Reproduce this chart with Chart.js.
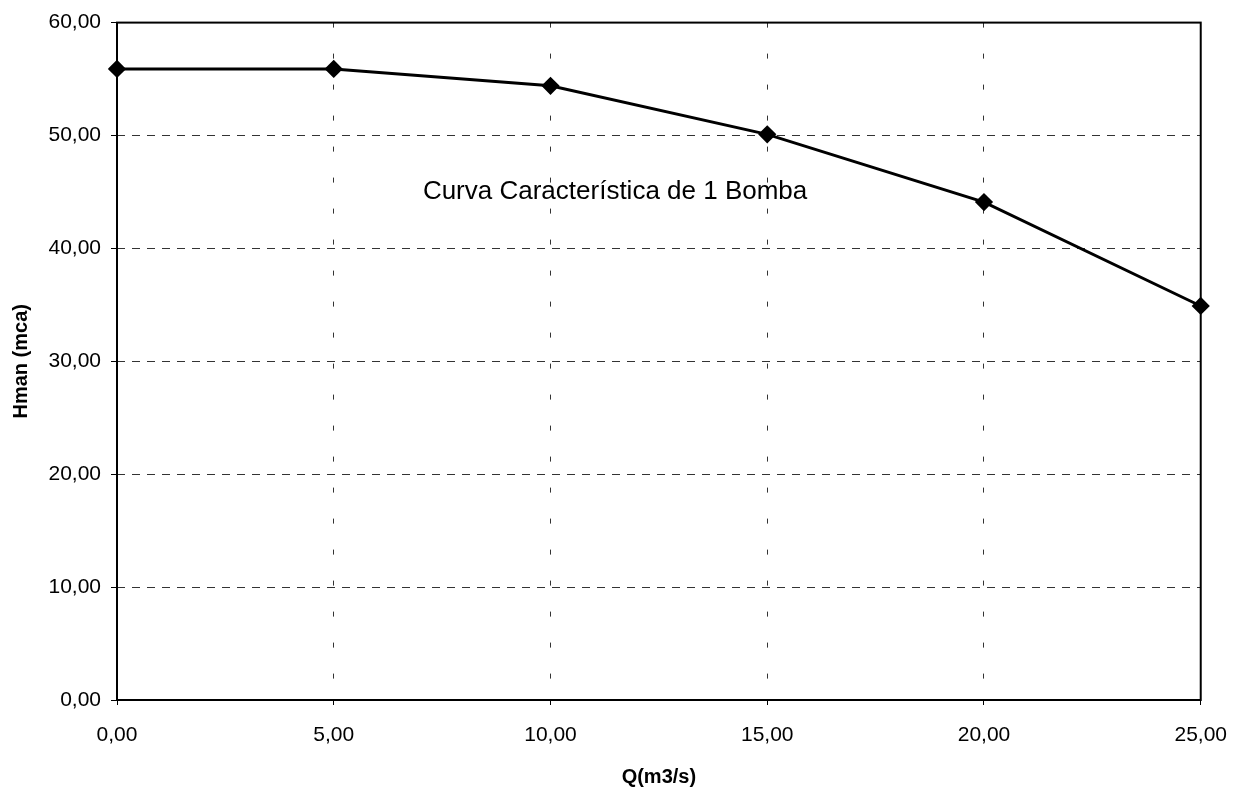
<!DOCTYPE html>
<html>
<head>
<meta charset="utf-8">
<script src="https://cdn.jsdelivr.net/npm/chart.js@4/dist/chart.umd.min.js"></script>
<style>
  body { margin: 0; background: #fff; }
</style>
</head>
<body>
<canvas id="chart" width="1245" height="789"></canvas>
<script>
const qValues = [0, 5, 10, 15, 20, 25];
const hValues = [55.9, 55.9, 54.4, 50.1, 44.1, 34.9];
const xTitle = "Q(m3/s)";
const yTitle = "Hman (mca)";
const noteText = "Curva Característica de 1 Bomba";
const notePos = { x: 11.49, y: 45.0 };

const fmt = (v) => v.toFixed(2).replace(".", ",");

// frame around the plot + floating label
const framePlugin = {
  id: "frame",
  afterDraw(chart) {
    const { ctx, chartArea: a, scales } = chart;
    ctx.save();
    ctx.strokeStyle = "#000";
    ctx.lineWidth = 2;
    ctx.strokeRect(a.left, a.top, a.right - a.left, a.bottom - a.top);
    ctx.fillStyle = "#000";
    ctx.font = "26px 'Liberation Sans', Arial, sans-serif";
    ctx.textAlign = "center";
    ctx.textBaseline = "middle";
    ctx.fillText(noteText, scales.x.getPixelForValue(notePos.x), scales.y.getPixelForValue(notePos.y));
    ctx.restore();
  },
};

const tickFont = { family: "'Liberation Sans', Arial, sans-serif", size: 21 };
const titleFont = { family: "'Liberation Sans', Arial, sans-serif", size: 20, weight: "bold" };

new Chart(document.getElementById("chart"), {
  type: "line",
  data: {
    datasets: [
      {
        data: qValues.map((q, i) => ({ x: q, y: hValues[i] })),
        borderColor: "#000",
        backgroundColor: "#000",
        borderWidth: 3,
        pointStyle: "rectRot",
        pointRadius: 7,
        tension: 0,
        clip: false,
      },
    ],
  },
  options: {
    responsive: false,
    animation: false,
    layout: { padding: { left: 0, top: 22, right: 42, bottom: 0 } },
    plugins: { legend: { display: false }, tooltip: { enabled: false } },
    scales: {
      x: {
        type: "linear",
        min: 0,
        max: 25,
        ticks: { stepSize: 5, color: "#000", font: tickFont, padding: 18, callback: (v) => fmt(v) },
        grid: { color: "#333", tickLength: 5, tickBorderDash: [], tickColor: "#000" },
        border: { display: false, dash: [5, 26] },
        title: { display: true, text: xTitle, color: "#000", font: titleFont, padding: { top: 0, bottom: 0 } },
        afterFit: (s) => { s.height = 89; },
      },
      y: {
        min: 0,
        max: 60,
        ticks: { stepSize: 10, color: "#000", font: tickFont, padding: 10, callback: (v) => fmt(v) },
        grid: { color: "#333", tickLength: 6, tickBorderDash: [], tickColor: "#000" },
        border: { display: false, dash: [8, 7] },
        title: { display: true, text: yTitle, color: "#000", font: titleFont, padding: { top: 9, bottom: 0 } },
        afterFit: (s) => { s.width = 117; },
      },
    },
  },
  plugins: [framePlugin],
});
</script>
</body>
</html>
